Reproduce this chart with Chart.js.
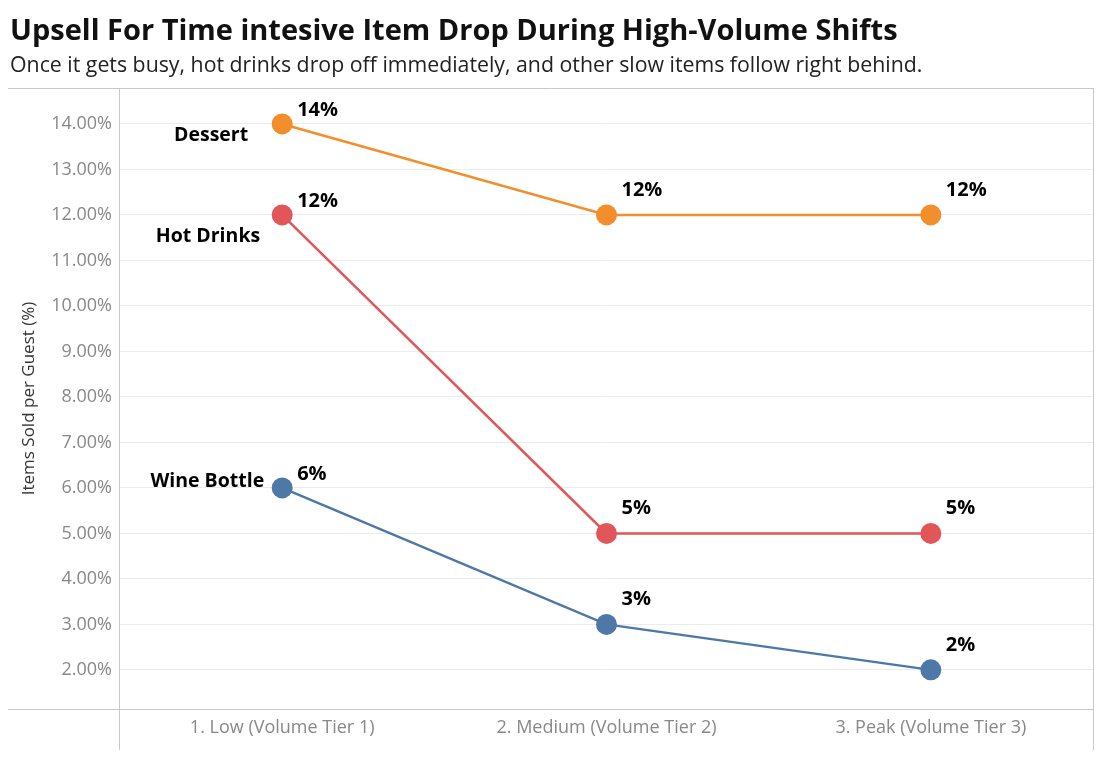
<!DOCTYPE html>
<html>
<head>
<meta charset="utf-8">
<script src="https://cdn.jsdelivr.net/npm/chart.js@4"></script>
<style>
  body { margin: 0; background: #fff; font-family: "Open Sans", sans-serif; }
  #wrap { position: relative; width: 1104px; height: 759px; }
  #title { position: absolute; left: 10px; top: 9px; font-size: 29px; font-weight: 700; color: #111; white-space: nowrap; }
  #sub { position: absolute; left: 10px; top: 49px; font-size: 21.3px; color: #222; white-space: nowrap; }
  canvas { position: absolute; left: 0; top: 0; }
</style>
</head>
<body>
<div id="wrap">
  <canvas id="chart" width="1104" height="759"></canvas>
  <div id="title">Upsell For Time intesive Item Drop During High-Volume Shifts</div>
  <div id="sub">Once it gets busy, hot drinks drop off immediately, and other slow items follow right behind.</div>
</div>
<script>
const tiers = ["1. Low (Volume Tier 1)", "2. Medium (Volume Tier 2)", "3. Peak (Volume Tier 3)"];
const seriesNames = ["Dessert", "Hot Drinks", "Wine Bottle"];
const dessert = [14, 12, 12];
const hotDrinks = [12, 5, 5];
const wineBottle = [6, 3, 2];
const yTicks = [2, 3, 4, 5, 6, 7, 8, 9, 10, 11, 12, 13, 14];

const colors = ["#F28E2B", "#E15759", "#4E79A7"];
// where the series name sits relative to its first point
const nameOffsets = [[-34, 11], [-22, 22], [-18, -6]];

const frame = {
  id: 'frame',
  beforeDraw(chart) {
    const { ctx, chartArea: a } = chart;
    ctx.save();
    ctx.strokeStyle = '#c8c8c8';
    ctx.lineWidth = 1;
    ctx.beginPath();
    ctx.moveTo(8, a.top + 0.5); ctx.lineTo(a.right, a.top + 0.5);
    ctx.moveTo(8, a.bottom + 0.5); ctx.lineTo(a.right, a.bottom + 0.5);
    ctx.moveTo(a.left - 0.5, a.top); ctx.lineTo(a.left - 0.5, 750);
    ctx.moveTo(a.right + 0.5, a.top); ctx.lineTo(a.right + 0.5, 750);
    ctx.stroke();
    ctx.restore();
  }
};

const labels = {
  id: 'labels',
  afterDatasetsDraw(chart) {
    const ctx = chart.ctx;
    ctx.save();
    ctx.fillStyle = '#000';
    ctx.textBaseline = 'middle';
    chart.data.datasets.forEach((ds, i) => {
      const pts = chart.getDatasetMeta(i).data;
      ctx.font = 'bold 20px "Open Sans"';
      ctx.textAlign = 'left';
      pts.forEach((p, j) => {
        ctx.fillText(ds.data[j] + '%', p.x + 15, p.y + (j === 0 ? -14 : -25));
      });
      ctx.font = 'bold 19.5px "Open Sans"';
      ctx.textAlign = 'right';
      const o = nameOffsets[i];
      ctx.fillText(ds.label, pts[0].x + o[0], pts[0].y + o[1]);
    });
    ctx.restore();
  }
};

new Chart(document.getElementById('chart'), {
  type: 'line',
  data: {
    labels: tiers,
    datasets: [dessert, hotDrinks, wineBottle].map((d, i) => ({
      label: seriesNames[i],
      data: d,
      borderColor: colors[i],
      backgroundColor: colors[i],
      borderWidth: 2.5,
      pointRadius: 10.5,
      pointHoverRadius: 10.5,
      pointBorderWidth: 0,
      tension: 0
    }))
  },
  options: {
    responsive: false,
    animation: false,
    layout: { padding: { left: 0, right: 11, top: 88, bottom: 0 } },
    plugins: { legend: { display: false }, tooltip: { enabled: false } },
    scales: {
      x: {
        offset: true,
        grid: { display: false, drawTicks: false },
        border: { display: false },
        ticks: { color: '#888', font: { family: 'Open Sans', size: 18 }, padding: 8 },
        afterFit(s) { s.height = 50; }
      },
      y: {
        min: 1.14,
        max: 14.79,
        grid: { color: '#ececec', drawTicks: false },
        border: { display: false },
        afterBuildTicks(s) { s.ticks = yTicks.map(v => ({ value: v })); },
        ticks: {
          color: '#888',
          font: { family: 'Open Sans', size: 18 },
          padding: 8,
          callback: v => v.toFixed(2) + '%'
        },
        title: {
          display: true,
          text: 'Items Sold per Guest (%)',
          color: '#333',
          font: { family: 'Open Sans', size: 17 },
          padding: { top: 19, bottom: 0 }
        },
        afterFit(s) { s.width = 120; }
      }
    }
  },
  plugins: [frame, labels]
});
</script>
</body>
</html>
